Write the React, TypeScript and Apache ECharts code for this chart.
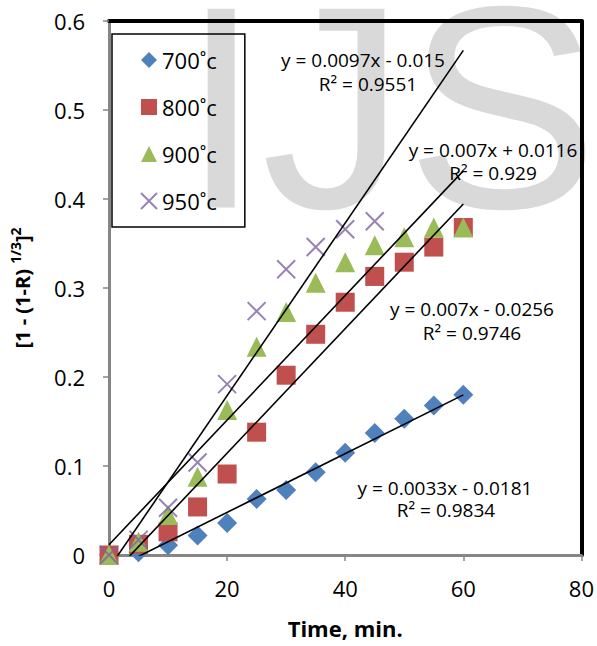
import React, { useEffect, useRef } from "react";
import * as echarts from "echarts";

const times = [0, 5, 10, 15, 20, 25, 30, 35, 40, 45, 50, 55, 60];
const seriesNames = ["700˚c", "800˚c", "900˚c", "950˚c"];
const v700 = [0, 0.003, 0.011, 0.022, 0.036, 0.063, 0.073, 0.093, 0.115, 0.137, 0.153, 0.168, 0.18];
const v800 = [0, 0.012, 0.026, 0.054, 0.091, 0.138, 0.202, 0.248, 0.284, 0.313, 0.329, 0.346, 0.368];
const v900 = [0, 0.015, 0.045, 0.088, 0.163, 0.234, 0.273, 0.306, 0.329, 0.348, 0.357, 0.368, 0.368];
const v950 = [0, 0.017, 0.053, 0.104, 0.192, 0.274, 0.321, 0.346, 0.366, 0.375];
const slopes = [0.0033, 0.007, 0.007, 0.0097];
const intercepts = [-0.0181, -0.0256, 0.0116, -0.015];
const trendRange = [0, 60];
const eqLabels = ["y = 0.0033x - 0.0181", "y = 0.007x - 0.0256", "y = 0.007x + 0.0116", "y = 0.0097x - 0.015"];
const r2Labels = ["R² = 0.9834", "R² = 0.9746", "R² = 0.929", "R² = 0.9551"];
const xTicks = { min: 0, max: 80, interval: 20 };
const yTicks = { min: 0, max: 0.6, interval: 0.1 };
const watermark = "IJS";

const colors = ["#4f81bd", "#c0504d", "#9bbb59", "#8064a2"];
const symbols = ["diamond", "rect", "triangle", "path://M0,0L10,10M10,0L0,10"];
const symbolSizes = [20, 19, 20, 18];
const eqPos = [
  [445, 488, 446, 510],
  [472, 309, 472, 333],
  [493, 150, 493, 173],
  [363, 60, 368, 84],
];

const FONT = '"Open Sans", "Noto Sans", sans-serif';

export default function App() {
  const ref = useRef<HTMLDivElement>(null);
  useEffect(() => {
    if (!ref.current) return;
    const chart = echarts.init(ref.current, undefined, { renderer: "svg" });
    const allVals = [v700, v800, v900, v950];
    const scatterSeries = allVals.map((vals, i) => ({
      name: seriesNames[i],
      type: "scatter",
      xAxisIndex: 0,
      yAxisIndex: 0,
      symbol: symbols[i],
      symbolSize: symbolSizes[i],
      data: vals.map((v, k) => [times[k], v]),
      itemStyle:
        i === 3
          ? { color: colors[i], borderColor: colors[i], borderWidth: 2 }
          : { color: colors[i], opacity: 1 },
      z: 3 + i,
    }));
    const trendSeries = slopes.map((m, i) => ({
      name: "trend" + i,
      type: "line",
      xAxisIndex: 0,
      yAxisIndex: 0,
      clip: true,
      symbol: "none",
      data: trendRange.map((x) => [x, m * x + intercepts[i]]),
      lineStyle: { color: "#000", width: 1.6 },
      z: 8,
    }));
    const eqGraphics: any[] = [];
    eqLabels.forEach((t, i) => {
      const p = eqPos[i];
      eqGraphics.push({
        type: "text",
        x: p[0],
        y: p[1],
        z: 20,
        style: { text: t, fill: "#000", font: `19px ${FONT}`, align: "center", verticalAlign: "middle" },
      });
      eqGraphics.push({
        type: "text",
        x: p[2],
        y: p[3],
        z: 20,
        style: { text: r2Labels[i], fill: "#000", font: `19px ${FONT}`, align: "center", verticalAlign: "middle" },
      });
    });
    const axisGrey = "#868686";
    chart.setOption({
      animation: false,
      backgroundColor: "#fff",
      grid: { left: 107, right: 13, top: 21, bottom: 91, show: false },
      legend: {
        data: seriesNames,
        orient: "vertical",
        left: 112,
        top: 34,
        padding: [14, 28],
        itemGap: 23,
        itemWidth: 16,
        itemHeight: 16,
        borderColor: "#000",
        borderWidth: 1.5,
        textStyle: { fontSize: 22, fontFamily: FONT, color: "#000", lineHeight: 24 },
      },
      xAxis: [
        {
          type: "value",
          min: xTicks.min,
          max: xTicks.max,
          interval: xTicks.interval,
          name: "Time, min.",
          nameLocation: "middle",
          nameGap: 62,
          nameTextStyle: { fontSize: 22, fontWeight: "bold", fontFamily: FONT, color: "#000" },
          axisLine: { show: true, onZero: false, lineStyle: { color: axisGrey, width: 3 } },
          axisTick: { show: true, length: 6, lineStyle: { color: axisGrey, width: 1.5 } },
          axisLabel: { fontSize: 22, fontFamily: FONT, color: "#000", margin: 22 },
          splitLine: { show: false },
        },
        {
          type: "value",
          position: "top",
          min: xTicks.min,
          max: xTicks.max,
          axisLine: { show: true, onZero: false, lineStyle: { color: "#000", width: 4 } },
          axisTick: { show: false },
          axisLabel: { show: false },
          splitLine: { show: false },
        },
      ],
      yAxis: [
        {
          type: "value",
          min: yTicks.min,
          max: yTicks.max,
          interval: yTicks.interval,
          name: "{b|[1 - (1-R) }{s|1/3}{b|]}{s|2}",
          nameLocation: "middle",
          nameRotate: 90,
          nameGap: 73,
          nameTextStyle: {
            fontFamily: FONT,
            color: "#000",
            rich: {
              b: { fontSize: 20, fontWeight: "bold", fontFamily: FONT, color: "#000", lineHeight: 28 },
              s: { fontSize: 14, fontWeight: "bold", fontFamily: FONT, color: "#000", lineHeight: 28, verticalAlign: "top" },
            },
          },
          axisLine: { show: true, onZero: false, lineStyle: { color: axisGrey, width: 3 } },
          axisTick: { show: true, length: 6, lineStyle: { color: axisGrey, width: 1.5 } },
          axisLabel: { fontSize: 22, fontFamily: FONT, color: "#000", margin: 24 },
          splitLine: { show: false },
        },
        {
          type: "value",
          position: "right",
          min: yTicks.min,
          max: yTicks.max,
          axisLine: { show: true, onZero: false, lineStyle: { color: "#000", width: 4 } },
          axisTick: { show: false },
          axisLabel: { show: false },
          splitLine: { show: false },
        },
      ],
      graphic: [
        {
          type: "text",
          x: 181,
          y: 107,
          z: -10,
          silent: true,
          style: {
            text: watermark,
            fill: "#d9d9d9",
            font: '289px "Liberation Sans", Arial, sans-serif',
            lineHeight: 200,
            align: "left",
            verticalAlign: "middle",
          },
        },
        ...eqGraphics,
      ],
      series: [...scatterSeries, ...trendSeries],
    });
    return () => chart.dispose();
  }, []);
  return (
    <div
      ref={ref}
      style={{ position: "fixed", left: 0, top: 0, width: 597, height: 646, background: "#fff" }}
    />
  );
}
